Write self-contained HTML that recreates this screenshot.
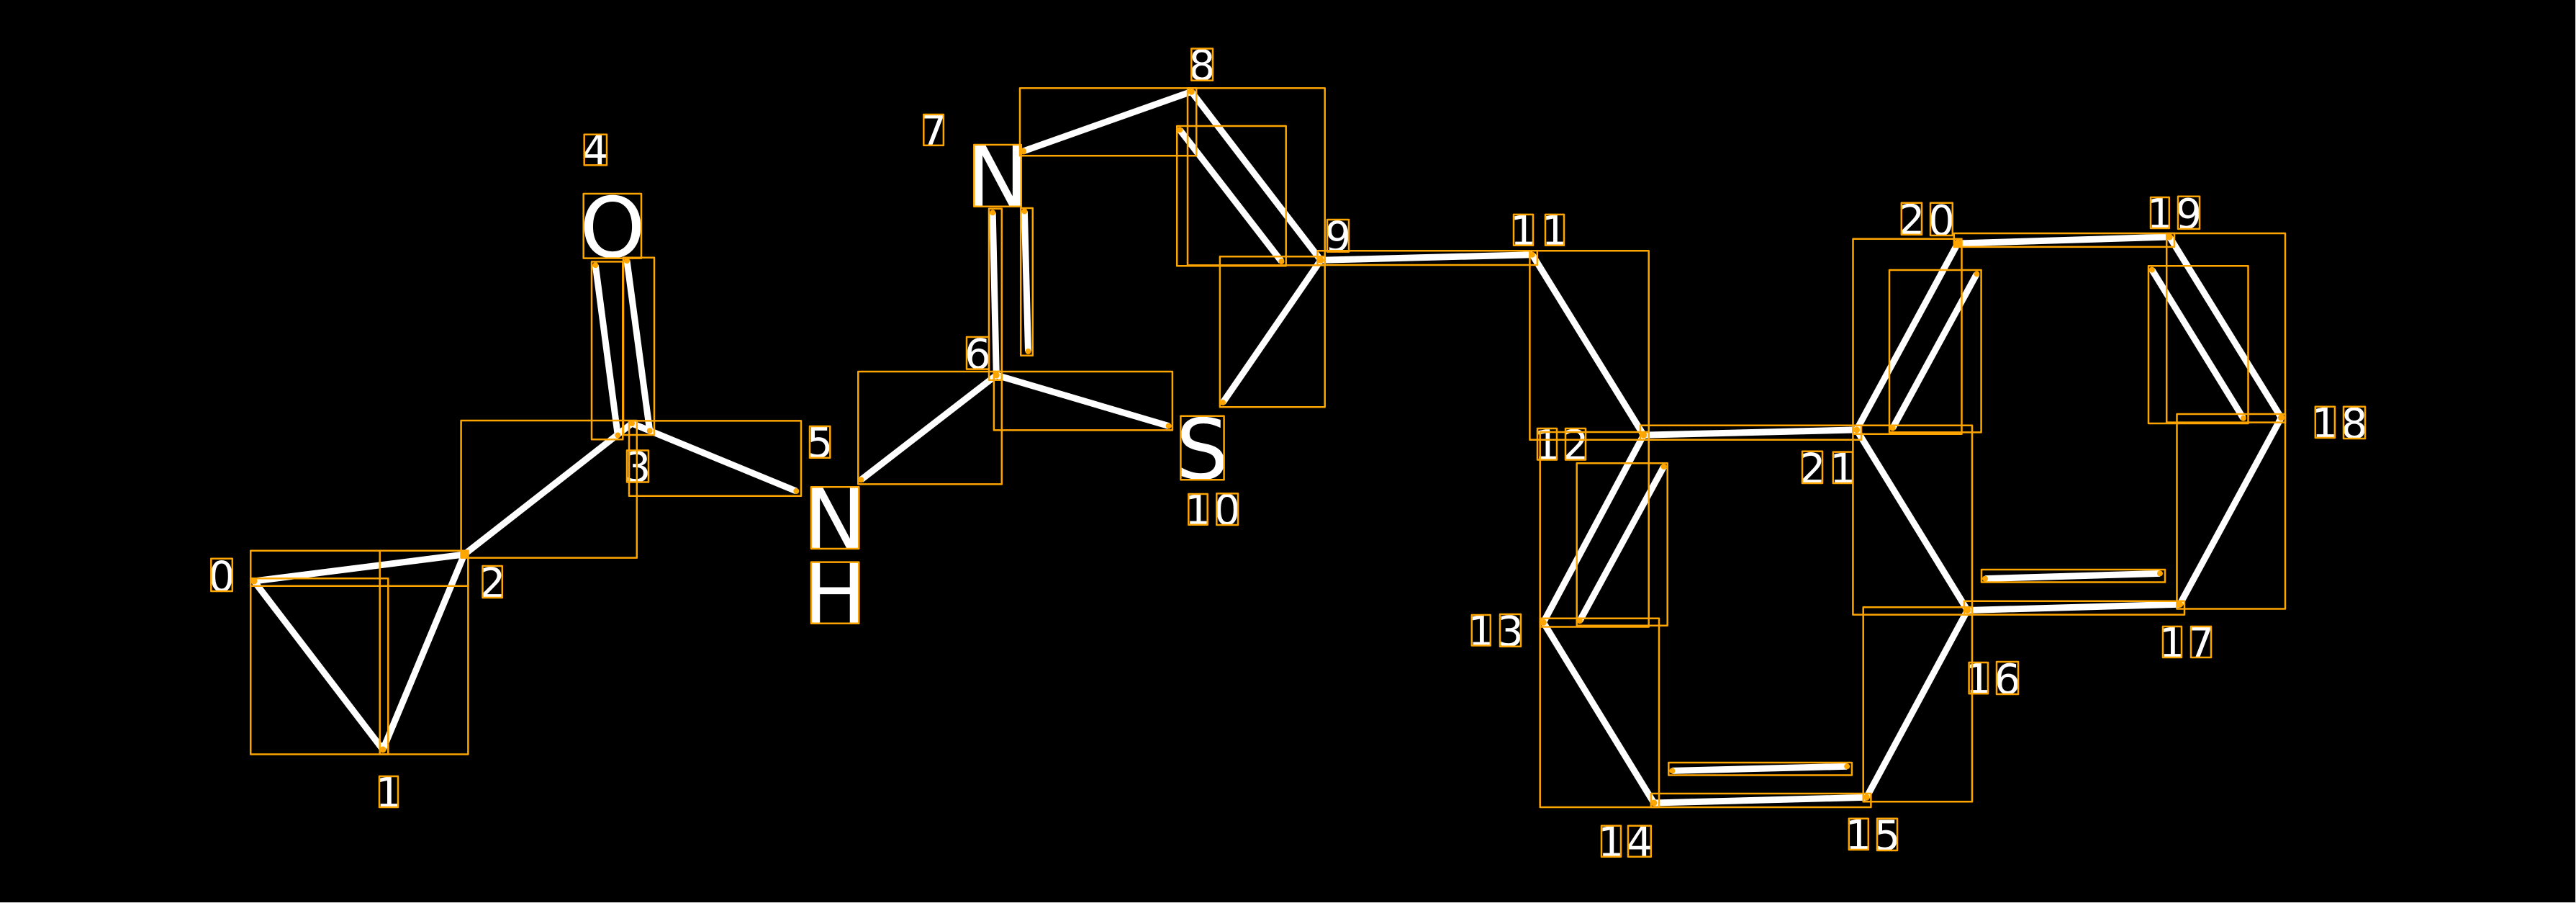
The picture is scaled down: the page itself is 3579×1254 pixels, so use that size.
<!DOCTYPE html>
<html><head><meta charset="utf-8"><style>
html,body{margin:0;padding:0;background:#000;width:3579px;height:1254px;overflow:hidden}
svg{display:block}
text{font-family:"DejaVu Sans",sans-serif;fill:#fff;text-anchor:middle}
.d{font-size:58px}.a{font-size:116px}
</style></head><body>
<svg width="3579" height="1254" viewBox="0 0 3579 1254" xmlns="http://www.w3.org/2000/svg">
<rect width="3579" height="1254" fill="#000"/>
<rect x="3578" y="0" width="1" height="1254" fill="#ddd"/>
<rect x="0" y="1253" width="3579" height="1" fill="#ddd"/>
<g stroke="#fff" stroke-width="9" fill="none">
<line x1="353" y1="807" x2="532" y2="1041"/>
<line x1="353" y1="807" x2="645" y2="770"/>
<line x1="532" y1="1041" x2="645" y2="770"/>
<line x1="645" y1="770" x2="878" y2="588"/>
<line x1="827.3" y1="368.2" x2="858.3" y2="604.5"/>
<line x1="871" y1="362" x2="902.7" y2="598.3"/>
<line x1="878" y1="588" x2="1106.3" y2="682"/>
<line x1="1196.3" y1="666.3" x2="1384.3" y2="521"/>
<line x1="1379.2" y1="295.2" x2="1384.3" y2="521"/>
<line x1="1423.4" y1="293.4" x2="1428.5" y2="488"/>
<line x1="1384.3" y1="521" x2="1623.7" y2="591.6"/>
<line x1="1421.6" y1="210" x2="1655.3" y2="127.3"/>
<line x1="1655.3" y1="127.3" x2="1835" y2="361.3"/>
<line x1="1639.2" y1="180.4" x2="1780.4" y2="363"/>
<line x1="1835" y1="361.3" x2="1699" y2="559"/>
<line x1="1835" y1="361.3" x2="2128.9" y2="353.7"/>
<line x1="2128.9" y1="353.7" x2="2283.6" y2="604.2"/>
<line x1="2283.6" y1="604.2" x2="2579.5" y2="596.9"/>
<line x1="2283.6" y1="604.2" x2="2144.3" y2="864.4"/>
<line x1="2311.6" y1="648" x2="2194.8" y2="862.3"/>
<line x1="2144.3" y1="864.4" x2="2297.9" y2="1115"/>
<line x1="2297.9" y1="1115" x2="2593.3" y2="1107.3"/>
<line x1="2323.4" y1="1070.4" x2="2566.2" y2="1064.3"/>
<line x1="2593.3" y1="1107.3" x2="2733.5" y2="847.5"/>
<line x1="2579.5" y1="596.9" x2="2733.5" y2="847.5"/>
<line x1="2733.5" y1="847.5" x2="3028.6" y2="839.3"/>
<line x1="2758" y1="803.6" x2="3001" y2="796.4"/>
<line x1="3028.6" y1="839.3" x2="3169.4" y2="580"/>
<line x1="3169.4" y1="580" x2="3014.3" y2="329"/>
<line x1="3116.8" y1="580.8" x2="2989.8" y2="374.6"/>
<line x1="3014.3" y1="329" x2="2720" y2="338"/>
<line x1="2720" y1="338" x2="2579.5" y2="596.9"/>
<line x1="2746.4" y1="380.4" x2="2629.6" y2="594.6"/>
</g>
<g>
<text class="d" x="308" y="821">0</text>
<text class="d" x="540" y="1121">1</text>
<text class="d" x="684" y="830">2</text>
<text class="d" x="886" y="669">3</text>
<text class="d" x="827" y="229">4</text>
<text class="d" x="1139" y="635">5</text>
<text class="d" x="1358.5" y="512">6</text>
<text class="d" x="1297" y="202">7</text>
<text class="d" x="1670" y="111">8</text>
<text class="d" x="1859" y="349">9</text>
<text class="d" x="1664.5" y="728.5">1</text><text class="d" x="1705" y="728.5">0</text>
<text class="d" x="2116.5" y="340.5">1</text><text class="d" x="2160" y="340.5">1</text>
<text class="d" x="2149.5" y="638.5">1</text><text class="d" x="2189" y="638.5">2</text>
<text class="d" x="2058" y="896.5">1</text><text class="d" x="2098.5" y="897">3</text>
<text class="d" x="2238.5" y="1189.5">1</text><text class="d" x="2278" y="1189.5">4</text>
<text class="d" x="2582" y="1180">1</text><text class="d" x="2622" y="1180.5">5</text>
<text class="d" x="2749" y="963">1</text><text class="d" x="2789" y="963.5">6</text>
<text class="d" x="3018" y="913">1</text><text class="d" x="3058" y="913">7</text>
<text class="d" x="3230" y="608">1</text><text class="d" x="3271" y="608.5">8</text>
<text class="d" x="3001" y="317">1</text><text class="d" x="3041" y="317.5">9</text>
<text class="d" x="2656" y="325.5">2</text><text class="d" x="2697.5" y="326.5">0</text>
<text class="d" x="2518" y="671">2</text><text class="d" x="2560.5" y="671">1</text>
<text class="a" x="851" y="357">O</text>
<text class="a" x="1160" y="762">N</text>
<text class="a" x="1160" y="865.5">H</text>
<text class="a" x="1386" y="286.5">N</text>
<text class="a" x="1670.5" y="665">S</text>
</g>
<g fill="none" stroke="#ffa500" stroke-width="2.5" stroke-linejoin="round">
<rect x="348.2" y="803.3" width="191.1" height="244.2"/>
<rect x="348.2" y="764.7" width="302.2" height="49"/>
<rect x="527.7" y="764.7" width="122.7" height="282.8"/>
<rect x="640.6" y="584" width="244.2" height="190.6"/>
<rect x="822" y="363.4" width="43.3" height="246.9"/>
<rect x="866" y="357.7" width="43" height="246.3"/>
<rect x="874" y="584.4" width="239" height="104.4"/>
<rect x="1192.3" y="516" width="199.5" height="156.4"/>
<rect x="1374" y="289.8" width="17.8" height="238"/>
<rect x="1418.2" y="289" width="16.6" height="204.8"/>
<rect x="1380.9" y="516" width="248" height="81.4"/>
<rect x="1417" y="122.4" width="245.2" height="93.8"/>
<rect x="1650" y="122.4" width="190.7" height="246"/>
<rect x="1635.2" y="175" width="151.5" height="194.3"/>
<rect x="1694.9" y="356.3" width="145.8" height="209"/>
<rect x="1830.4" y="348.3" width="305.4" height="19.7"/>
<rect x="2125.4" y="348.3" width="165.3" height="262.4"/>
<rect x="2279" y="590.8" width="307" height="19.9"/>
<rect x="2139.7" y="600" width="151" height="270.5"/>
<rect x="2190.7" y="643.3" width="126" height="225.5"/>
<rect x="2139.7" y="858.8" width="165.3" height="262.2"/>
<rect x="2293.8" y="1102" width="305.6" height="19"/>
<rect x="2318.3" y="1059" width="254.6" height="17.5"/>
<rect x="2588.7" y="843.2" width="151.3" height="270.1"/>
<rect x="2574.4" y="590.8" width="165.6" height="262.8"/>
<rect x="2729" y="834.8" width="306" height="18.8"/>
<rect x="2753" y="791" width="255" height="17.5"/>
<rect x="3024.5" y="575" width="150.5" height="270.5"/>
<rect x="3010.2" y="324" width="164.8" height="262.6"/>
<rect x="2985" y="369.2" width="138.5" height="218.8"/>
<rect x="2714.8" y="324" width="306.2" height="18.9"/>
<rect x="2574.5" y="331.7" width="151" height="271"/>
<rect x="2625" y="375" width="127.6" height="225.4"/>
<rect x="293.3" y="775.8" width="29.5" height="45.2"/>
<rect x="527" y="1078" width="26" height="43"/>
<rect x="670.5" y="786" width="27.3" height="44"/>
<rect x="871" y="625.5" width="30" height="44"/>
<rect x="811.7" y="186.8" width="31.3" height="42.6"/>
<rect x="1125" y="592" width="28.3" height="43.7"/>
<rect x="1343" y="468" width="31" height="44.6"/>
<rect x="1283.3" y="159" width="27.6" height="42.9"/>
<rect x="1655.3" y="67.5" width="29.7" height="44.2"/>
<rect x="1844" y="305" width="30" height="44.6"/>
<rect x="1651.3" y="686" width="26.4" height="42.7"/>
<rect x="1690.3" y="685.4" width="29.7" height="43.6"/>
<rect x="2103" y="297.9" width="27" height="42.8"/>
<rect x="2147" y="297.9" width="26" height="42.8"/>
<rect x="2136" y="595" width="27" height="43.5"/>
<rect x="2175" y="595" width="28" height="43.5"/>
<rect x="2044.8" y="854" width="26" height="42.5"/>
<rect x="2084" y="853" width="29" height="44.8"/>
<rect x="2225" y="1146.7" width="27" height="43"/>
<rect x="2262" y="1146.7" width="31.8" height="43"/>
<rect x="2568.8" y="1136.8" width="27" height="43.2"/>
<rect x="2608" y="1136.8" width="28" height="44.2"/>
<rect x="2735.6" y="920" width="26.4" height="43.3"/>
<rect x="2774" y="919" width="30" height="45"/>
<rect x="3005" y="870" width="26" height="43"/>
<rect x="3044" y="870" width="28" height="43"/>
<rect x="3216.8" y="564.7" width="27.1" height="43.3"/>
<rect x="3256" y="564.7" width="30" height="44.3"/>
<rect x="2988" y="274" width="25.8" height="43"/>
<rect x="3026" y="272.8" width="30" height="45.1"/>
<rect x="2641.8" y="281.7" width="28.2" height="44.2"/>
<rect x="2682" y="281.7" width="30.8" height="45.3"/>
<rect x="2504" y="626.8" width="28" height="44.2"/>
<rect x="2546.8" y="627.6" width="27.2" height="43.4"/>
<rect x="810.7" y="269" width="80.3" height="89.6"/>
<rect x="1127" y="676.3" width="66.3" height="85.7"/>
<rect x="1127" y="780.6" width="66.3" height="85.2"/>
<rect x="1353.3" y="201" width="65.5" height="85.7"/>
<rect x="1640.4" y="577.8" width="60.2" height="88.4"/>
</g>
<g fill="#ffa500">
<circle cx="353" cy="807" r="4.5"/><circle cx="532" cy="1041" r="4.5"/><circle cx="645" cy="770" r="5.5"/>
<circle cx="878" cy="588" r="4"/><circle cx="858.3" cy="604.5" r="4"/><circle cx="902.7" cy="598.3" r="4"/>
<circle cx="827.3" cy="368.2" r="4"/><circle cx="871" cy="362" r="4"/><circle cx="1106.3" cy="682" r="4"/>
<circle cx="1196.3" cy="666.3" r="4"/><circle cx="1384.3" cy="521" r="4.5"/><circle cx="1379.2" cy="295.2" r="4"/>
<circle cx="1423.4" cy="293.4" r="4"/><circle cx="1428.5" cy="488" r="4"/><circle cx="1623.7" cy="591.6" r="4"/>
<circle cx="1421.6" cy="210" r="4.5"/><circle cx="1655.3" cy="127.3" r="4.5"/><circle cx="1835" cy="361.3" r="4.5"/>
<circle cx="1639.2" cy="180.4" r="4"/><circle cx="1780.4" cy="363" r="4"/><circle cx="1699" cy="559" r="4"/>
<circle cx="2128.9" cy="353.7" r="4"/><circle cx="2283.6" cy="604.2" r="4.5"/><circle cx="2579.5" cy="596.9" r="4.5"/>
<circle cx="2144.3" cy="864.4" r="4.5"/><circle cx="2311.6" cy="648" r="4"/><circle cx="2194.8" cy="862.3" r="4"/>
<circle cx="2297.9" cy="1115" r="4.5"/><circle cx="2593.3" cy="1107.3" r="4.5"/><circle cx="2323.4" cy="1070.4" r="4"/>
<circle cx="2566.2" cy="1064.3" r="4"/><circle cx="2733.5" cy="847.5" r="4.5"/><circle cx="3028.6" cy="839.3" r="4.5"/>
<circle cx="2758" cy="803.6" r="4"/><circle cx="3001" cy="796.4" r="4"/><circle cx="3169.4" cy="580" r="4.5"/>
<circle cx="3116.8" cy="580.8" r="4"/><circle cx="2989.8" cy="374.6" r="4"/><circle cx="3014.3" cy="329" r="4.5"/>
<circle cx="2720" cy="338" r="5.5"/><circle cx="2746.4" cy="380.4" r="4"/><circle cx="2629.6" cy="594.6" r="4"/>
</g>
</svg>
</body></html>
